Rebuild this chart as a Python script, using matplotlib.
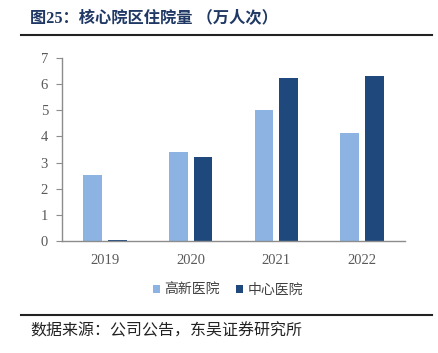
import matplotlib
matplotlib.use("Agg")
import matplotlib.pyplot as plt
from matplotlib.lines import Line2D
import numpy as np

plt.rcParams['font.family'] = ['Liberation Serif', 'Noto Sans CJK SC', 'DejaVu Sans']

years = ['2019', '2020', '2021', '2022']
gaoxin = [2.53, 3.41, 5.02, 4.14]
zhongxin = [0.05, 3.22, 6.24, 6.32]
series_names = ['高新医院', '中心医院']
colors = ['#8DB3E2', '#1F497D']
yticks = [0, 1, 2, 3, 4, 5, 6, 7]

fig = plt.figure(figsize=(4.39, 3.53), dpi=100)
W, H = 439, 353
ax = fig.add_axes([62 / W, 1 - 241 / H, (405 - 62) / W, (241 - 58) / H])

x = np.arange(len(years))
bw = 0.22
off = 0.145
ax.bar(x - off, gaoxin, bw, color=colors[0], label=series_names[0])
ax.bar(x + off, zhongxin, bw, color=colors[1], label=series_names[1])

ax.set_xlim(-0.5, len(years) - 0.5)
ax.set_ylim(0, 7)
ax.set_yticks(yticks)
ax.set_yticklabels([str(t) for t in yticks])
ax.set_xticks(x)
ax.set_xticklabels(years)
for s in ['top', 'right']:
    ax.spines[s].set_visible(False)
for s in ['left', 'bottom']:
    ax.spines[s].set_color('#8C8C8C')
    ax.spines[s].set_linewidth(1.0)
ax.tick_params(axis='y', direction='out', length=4, color='#8C8C8C', labelcolor='#595959', labelsize=10.5, pad=6)
ax.tick_params(axis='x', length=0, labelcolor='#595959', labelsize=10.5, pad=9)

# title and rules
fig.text(30 / W, 1 - 19 / H, '图25：核心院区住院量 （万人次）', fontsize=11.7, fontweight='bold',
         color='#1F3864', va='center', ha='left',
         family=['Liberation Serif', 'Noto Sans CJK SC'])
fig.add_artist(Line2D([21 / W, 432 / W], [1 - 35 / H, 1 - 35 / H], color='#222222', lw=1.5, transform=fig.transFigure))
fig.add_artist(Line2D([21 / W, 432 / W], [1 - 315 / H, 1 - 315 / H], color='#222222', lw=1.5, transform=fig.transFigure))

leg = fig.legend(loc='center', bbox_to_anchor=(228 / W, 1 - 290 / H), ncol=2, frameon=False,
                 handlelength=0.5, handleheight=0.5, handletextpad=0.3, columnspacing=1.2,
                 prop={'family': ['Noto Sans CJK SC'], 'size': 10})
for t in leg.get_texts():
    t.set_color('#404040')

fig.text(30 / W, 1 - 331 / H, '数据来源：公司公告，东吴证券研究所', fontsize=11.5, color='#222222',
         va='center', ha='left', family=['Noto Sans CJK SC'])

fig.savefig('out.png', dpi=100)
